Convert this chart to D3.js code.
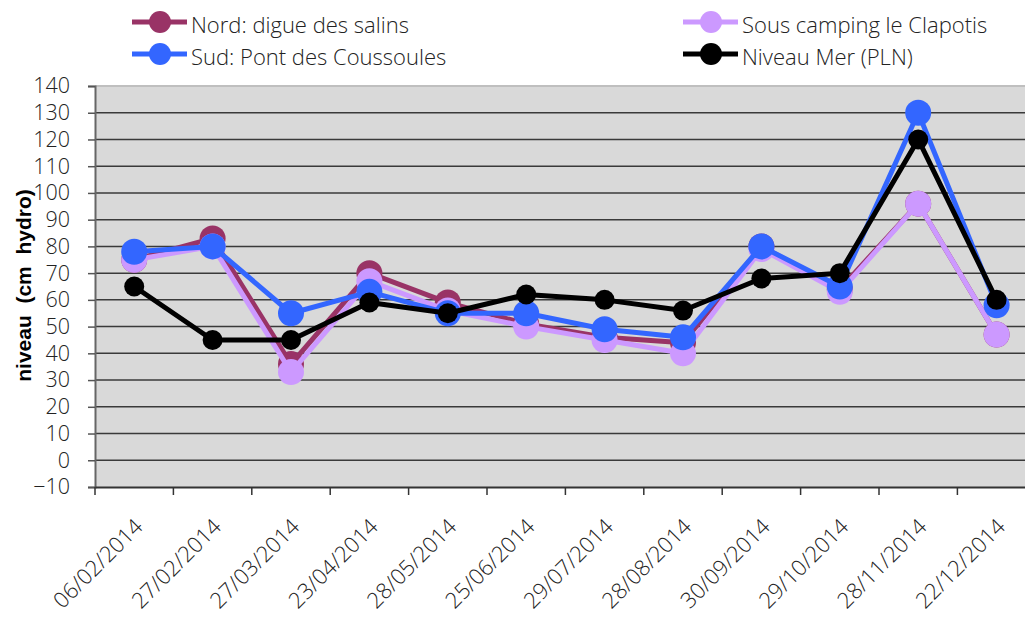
<!DOCTYPE html>
<html>
<head>
<meta charset="utf-8">
<script src="https://cdn.jsdelivr.net/npm/d3@7"></script>
<style>
	body { margin: 0; background: #fff; }
	svg { display: block; font-family: "Open Sans", sans-serif; font-weight: 300; font-stretch: 88%; }
</style>
</head>
<body>
<div id="viz"></div>
<script>
// dates of the survey
const dates = ['06/02/2014', '27/02/2014', '27/03/2014', '23/04/2014', '28/05/2014', '25/06/2014',
	'29/07/2014', '28/08/2014', '30/09/2014', '29/10/2014', '28/11/2014', '22/12/2014'];

const nord = [75, 83, 36, 70, 59, 51, 46, 44, 80, 64, 96, 47];
const camping = [75, 80, 33, 67, 56, 50, 45, 40, 79, 63, 96, 47];
const sud = [78, 80, 55, 63, 55, 55, 49, 46, 80, 65, 130, 58];
const mer = [65, 45, 45, 59, 55, 62, 60, 56, 68, 70, 120, 60];

const yTicks = [-10, 0, 10, 20, 30, 40, 50, 60, 70, 80, 90, 100, 110, 120, 130, 140];

const series = [
	{ name: 'Nord: digue des salins', values: nord, color: '#993366', r: 13 },
	{ name: 'Sous camping le Clapotis', values: camping, color: '#cc99ff', r: 13 },
	{ name: 'Sud: Pont des Coussoules', values: sud, color: '#3366ff', r: 13 },
	{ name: 'Niveau Mer (PLN)', values: mer, color: '#000000', r: 10 }
];

const width = 1025, height = 618;
const plotLeft = 95, plotTop = 86, plotBottom = 487;
const band = 78.4;

const svg = d3.select('#viz').append('svg')
	.attr('width', width)
	.attr('height', height);

const x = d3.scaleBand()
	.domain(dates)
	.range([plotLeft, plotLeft + band * dates.length]);

const y = d3.scaleLinear()
	.domain([-10, 140])
	.range([plotBottom, plotTop]);

// plot area
svg.append('rect')
	.attr('x', plotLeft).attr('y', plotTop)
	.attr('width', band * dates.length).attr('height', plotBottom - plotTop)
	.attr('fill', '#d9d9d9');

svg.append('line')
	.attr('x1', plotLeft).attr('x2', width)
	.attr('y1', y(140)).attr('y2', y(140))
	.attr('stroke', '#bfbfbf').attr('stroke-width', 2);

// gridlines
svg.append('g').selectAll('line')
	.data(yTicks.filter(d => d > -10 && d < 140))
	.enter().append('line')
	.attr('x1', plotLeft).attr('x2', width)
	.attr('y1', d => y(d)).attr('y2', d => y(d))
	.attr('stroke', '#3a3a3a').attr('stroke-width', 1.5);

// y axis
const yAxis = svg.append('g')
	.attr('transform', 'translate(' + plotLeft + ',0)')
	.call(d3.axisLeft(y).tickValues(yTicks).tickSize(7).tickPadding(18));
yAxis.attr('font-family', null).attr('font-size', null);
yAxis.select('.domain').attr('stroke', '#666').attr('stroke-width', 2);
yAxis.selectAll('.tick line').attr('stroke', '#555').attr('stroke-width', 1.5);
yAxis.selectAll('.tick text').attr('font-size', 21.5).attr('fill', '#222');

// x axis
const xAxis = svg.append('g')
	.attr('transform', 'translate(0,' + plotBottom + ')')
	.call(d3.axisBottom(x).tickSize(0).tickFormat(''));
xAxis.select('.domain').attr('stroke', '#333').attr('stroke-width', 2);

svg.append('g').selectAll('line')
	.data(d3.range(dates.length + 1))
	.enter().append('line')
	.attr('x1', i => plotLeft + i * band).attr('x2', i => plotLeft + i * band)
	.attr('y1', plotBottom).attr('y2', plotBottom + 8)
	.attr('stroke', '#333').attr('stroke-width', 1.5);

svg.append('g').selectAll('text')
	.data(dates)
	.enter().append('text')
	.attr('transform', d => 'translate(' + (x(d) + x.bandwidth() / 2 + 10) + ',' + (plotBottom + 41) + ') rotate(-45)')
	.attr('text-anchor', 'end')
	.attr('font-size', 22)
	.attr('fill', '#222')
	.text(d => d);

// axis title
svg.append('text')
	.attr('transform', 'translate(31,' + ((plotTop + plotBottom) / 2 - 1) + ') rotate(-90)')
	.attr('text-anchor', 'middle')
	.attr('font-family', 'Liberation Sans, Arial, sans-serif')
	.attr('font-weight', 'bold')
	.attr('font-stretch', 'normal')
	.attr('font-size', 21)
	.attr('xml:space', 'preserve')
	.text('niveau  (cm  hydro)');

// lines and markers
const line = d3.line()
	.x((d, i) => x(dates[i]) + x.bandwidth() / 2)
	.y(d => y(d));

series.forEach(s => {
	const g = svg.append('g');
	g.append('path')
		.datum(s.values)
		.attr('fill', 'none')
		.attr('stroke', s.color)
		.attr('stroke-width', 5)
		.attr('stroke-linejoin', 'round')
		.attr('d', line);
	g.selectAll('circle')
		.data(s.values)
		.enter().append('circle')
		.attr('cx', (d, i) => x(dates[i]) + x.bandwidth() / 2)
		.attr('cy', d => y(d))
		.attr('r', s.r)
		.attr('fill', s.color);
});

// legend
const legendPos = [
	{ s: series[0], lx: 132, ly: 22 },
	{ s: series[2], lx: 132, ly: 54 },
	{ s: series[1], lx: 683, ly: 22 },
	{ s: series[3], lx: 683, ly: 54 }
];

const legend = svg.append('g').selectAll('g')
	.data(legendPos)
	.enter().append('g')
	.attr('transform', d => 'translate(' + d.lx + ',' + d.ly + ')');

legend.append('line')
	.attr('x1', 0).attr('x2', 55)
	.attr('stroke', d => d.s.color)
	.attr('stroke-width', 5);

legend.append('circle')
	.attr('cx', 28).attr('r', 11)
	.attr('fill', d => d.s.color);

legend.append('text')
	.attr('x', 59).attr('y', 11)
	.attr('font-size', 22)
	.attr('fill', '#222')
	.text(d => d.s.name);
</script>
</body>
</html>
